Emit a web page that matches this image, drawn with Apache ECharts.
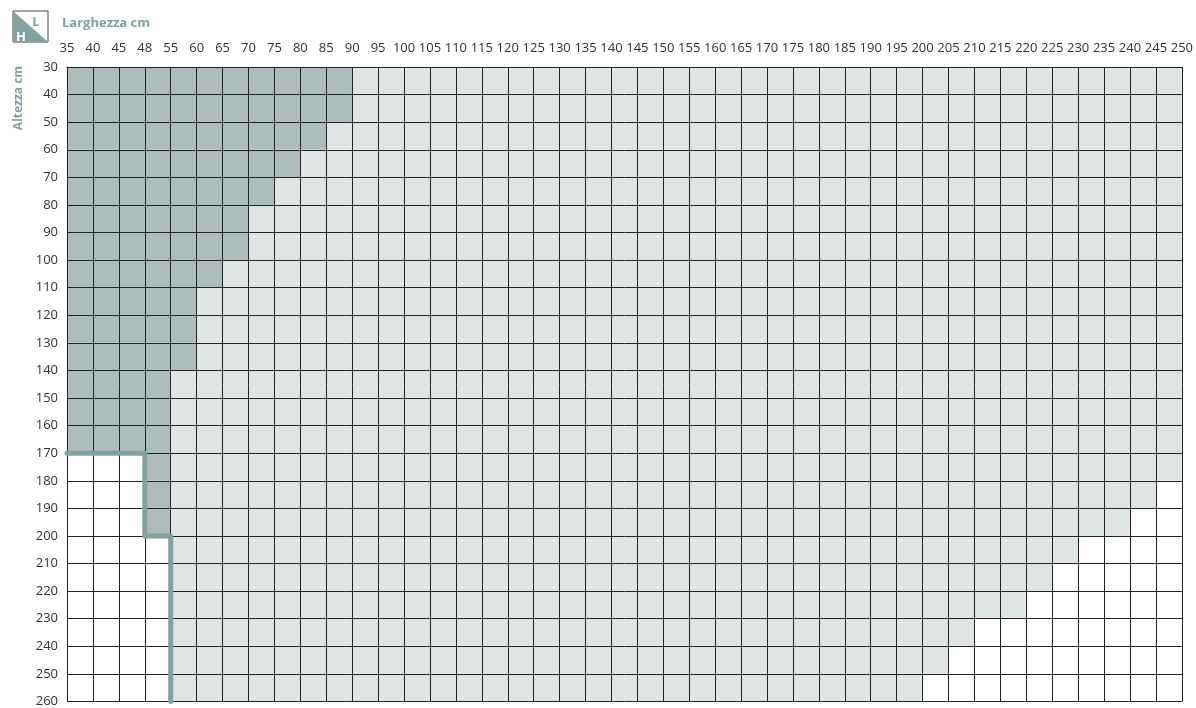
<!DOCTYPE html>
<html>
<head>
<meta charset="utf-8">
<script src="https://cdn.jsdelivr.net/npm/echarts@6/dist/echarts.min.js"></script>
<style>
  html, body { margin: 0; padding: 0; background: #fff; }
  #main { width: 1196px; height: 708px; }
</style>
</head>
<body>
<div id="main"></div>
<script>
// larghezza (colonne) e altezza (righe), etichette sulle linee della griglia
const xLabels = ['35', '40', '45', '48', '55', '60', '65', '70', '75', '80', '85', '90', '95', '100',
  '105', '110', '115', '120', '125', '130', '135', '140', '145', '150', '155', '160', '165', '170',
  '175', '180', '185', '190', '195', '200', '205', '210', '215', '220', '225', '230', '235', '240',
  '245', '250']
const yLabels = ['30', '40', '50', '60', '70', '80', '90', '100', '110', '120', '130', '140', '150',
  '160', '170', '180', '190', '200', '210', '220', '230', '240', '250', '260']

// per ogni riga (30-40 ... 250-260): inizio area, fine area scura, fine area chiara
const rowStart = ['35', '35', '35', '35', '35', '35', '35', '35', '35', '35', '35', '35', '35', '35',
  '48', '48', '48', '55', '55', '55', '55', '55', '55']
const darkEnd = ['90', '90', '85', '80', '75', '70', '70', '65', '60', '60', '60', '55', '55', '55',
  '55', '55', '55', '55', '55', '55', '55', '55', '55']
const lightEnd = ['250', '250', '250', '250', '250', '250', '250', '250', '250', '250', '250', '250',
  '250', '250', '250', '245', '240', '230', '225', '220', '210', '205', '200']

// linea limite
const limitPath = [['35', '170'], ['48', '170'], ['48', '200'], ['55', '200'], ['55', '260']]

const teal = '#84a1a1'
const darkFill = '#aebcbc'
const lightFill = '#dfe4e4'
const lineColor = '#222'
const font = 'Open Sans'

const xi = (l) => xLabels.indexOf(l)
const darkCells = []
const lightCells = []
rowStart.forEach((s, r) => {
  darkCells.push([xi(s), r, xi(darkEnd[r]), r + 1])
  lightCells.push([xi(darkEnd[r]), r, xi(lightEnd[r]), r + 1])
})

const rectRenderer = (color) => (params, api) => {
  const p0 = api.coord([api.value(0), api.value(1)])
  const p1 = api.coord([api.value(2), api.value(3)])
  return {
    type: 'rect',
    shape: { x: p0[0], y: p0[1], width: p1[0] - p0[0], height: p1[1] - p0[1] },
    style: { fill: color }
  }
}

const myChart = echarts.init(document.getElementById('main'))

myChart.setOption({
  animation: false,
  grid: { left: 67, right: 11, top: 67, bottom: 6 },
  graphic: [
    { type: 'rect', shape: { x: 13, y: 11, width: 35, height: 31 }, style: { fill: '#fff', stroke: '#444', lineWidth: 1 } },
    { type: 'polygon', shape: { points: [[13, 11], [48, 42], [13, 42]] }, style: { fill: teal } },
    { type: 'text', x: 36, y: 22, style: { text: 'L', fill: teal, font: 'bold 13px "Open Sans"', align: 'center', verticalAlign: 'middle' } },
    { type: 'text', x: 21, y: 37, style: { text: 'H', fill: '#fff', font: 'bold 13px "Open Sans"', align: 'center', verticalAlign: 'middle' } },
    { type: 'text', x: 62, y: 23, style: { text: 'Larghezza cm', fill: teal, font: 'bold 13px "Open Sans"', verticalAlign: 'middle' } },
    { type: 'text', x: 19, y: 98, rotation: Math.PI / 2, style: { text: 'Altezza cm', fill: teal, font: 'bold 12px "Open Sans"', align: 'center', verticalAlign: 'middle' } }
  ],
  xAxis: {
    type: 'category',
    position: 'top',
    data: xLabels,
    boundaryGap: false,
    z: 5,
    axisLine: { lineStyle: { color: lineColor } },
    axisTick: { length: 5, interval: 0, lineStyle: { color: lineColor } },
    axisLabel: { interval: 0, margin: 12, fontSize: 13, color: '#333', fontFamily: font },
    splitLine: { show: true, interval: 0, lineStyle: { color: lineColor, width: 1 } }
  },
  yAxis: {
    type: 'category',
    inverse: true,
    data: yLabels,
    boundaryGap: false,
    z: 5,
    axisLine: { lineStyle: { color: lineColor } },
    axisTick: { length: 5, interval: 0, lineStyle: { color: lineColor } },
    axisLabel: { interval: 0, margin: 9, fontSize: 13, color: '#333', fontFamily: font },
    splitLine: { show: true, interval: 0, lineStyle: { color: lineColor, width: 1 } }
  },
  series: [
    {
      type: 'custom',
      z: 1,
      renderItem: rectRenderer(darkFill),
      encode: { x: [0, 2], y: [1, 3] },
      data: darkCells
    },
    {
      type: 'custom',
      z: 1,
      renderItem: rectRenderer(lightFill),
      encode: { x: [0, 2], y: [1, 3] },
      data: lightCells
    },
    {
      type: 'line',
      z: 10,
      data: limitPath,
      showSymbol: false,
      lineStyle: { color: teal, width: 5, join: 'round', cap: 'round' }
    }
  ]
})
</script>
</body>
</html>
